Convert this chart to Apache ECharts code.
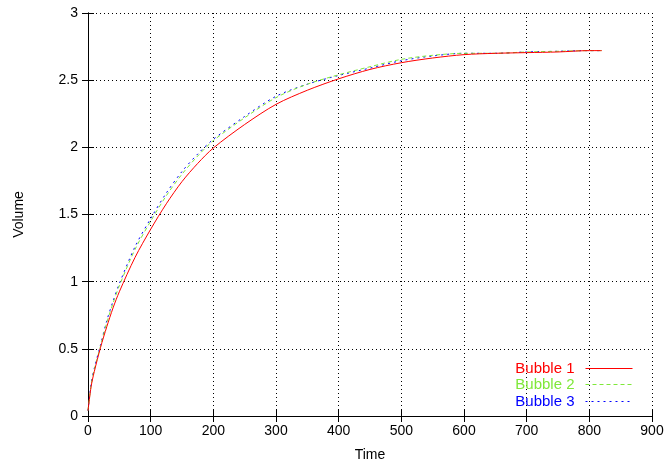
<!DOCTYPE html>
<html>
<head>
<meta charset="utf-8">
<script src="https://cdn.jsdelivr.net/npm/echarts@6/dist/echarts.min.js"></script>
<style>html,body{margin:0;padding:0;background:#fff;}#c{width:669px;height:467px;}</style>
</head>
<body>
<div id="c"></div>
<script>
const times = [0, 5, 10, 20, 30, 40, 50, 75, 100, 125, 150, 175, 200, 250, 300, 350, 400, 450, 500, 550, 600, 650, 700, 750, 800, 820];
const bubble1 = [0.04, 0.22, 0.33, 0.51, 0.665, 0.805, 0.925, 1.18, 1.39, 1.58, 1.745, 1.88, 1.995, 2.17, 2.32, 2.425, 2.51, 2.58, 2.63, 2.665, 2.69, 2.70, 2.705, 2.71, 2.72, 2.72];
const bubble2 = [0.04, 0.23, 0.345, 0.52, 0.695, 0.84, 0.97, 1.24, 1.45, 1.64, 1.80, 1.935, 2.05, 2.22, 2.37, 2.47, 2.54, 2.60, 2.655, 2.685, 2.70, 2.70, 2.71, 2.715, 2.72, 2.72];
const bubble3 = [0.04, 0.24, 0.355, 0.53, 0.71, 0.855, 0.985, 1.26, 1.47, 1.66, 1.82, 1.95, 2.06, 2.23, 2.38, 2.47, 2.535, 2.59, 2.645, 2.68, 2.70, 2.70, 2.71, 2.715, 2.72, 2.72];
const seriesNames = ['Bubble 1', 'Bubble 2', 'Bubble 3'];
const seriesColors = ['#ff0000', '#7fe83a', '#0000ff'];
const xLabel = 'Time';
const yLabel = 'Volume';

const font = 'Liberation Sans, Arial, Helvetica, sans-serif';
const pair = (vals) => times.map((t, i) => [t, vals[i]]);
const dashes = ['solid', [4, 3], [2, 4]];
const legendTops = [361, 377, 394];

const chart = echarts.init(document.getElementById('c'), null, {renderer: 'canvas'});
const axisCommon = {
  axisLine: {show: true, lineStyle: {color: '#000', width: 1}},
  axisTick: {show: true, inside: true, length: 6, lineStyle: {color: '#000'}},
};
chart.setOption({
  animation: false,
  backgroundColor: '#fff',
  textStyle: {fontFamily: font},
  grid: {left: 88, right: 17, top: 13, bottom: 51, containLabel: false},
  xAxis: [
    Object.assign({
      type: 'value', min: 0, max: 900, interval: 100, position: 'bottom',
      name: xLabel, nameLocation: 'middle', nameGap: 32,
      nameTextStyle: {color: '#000', fontSize: 14, fontFamily: font},
      axisLabel: {color: '#000', fontSize: 14, fontFamily: font, margin: 8},
      splitLine: {show: true, lineStyle: {color: '#000', type: [1, 3], width: 1}}
    }, axisCommon),
    Object.assign({
      type: 'value', min: 0, max: 900, interval: 100, position: 'top',
      axisLabel: {show: false}, splitLine: {show: false}
    }, axisCommon)
  ],
  yAxis: [
    Object.assign({
      type: 'value', min: 0, max: 3, interval: 0.5, position: 'left',
      name: yLabel, nameLocation: 'middle', nameGap: 62, nameRotate: 90,
      nameTextStyle: {color: '#000', fontSize: 14, fontFamily: font},
      axisLabel: {color: '#000', fontSize: 14, fontFamily: font, margin: 10},
      splitLine: {show: true, lineStyle: {color: '#000', type: [1, 3], width: 1}}
    }, axisCommon),
    Object.assign({
      type: 'value', min: 0, max: 3, interval: 0.5, position: 'right',
      axisLabel: {show: false}, splitLine: {show: false}
    }, axisCommon)
  ],
  legend: seriesNames.map((n, i) => ({
    orient: 'horizontal', right: 36, top: legendTops[i], align: 'right',
    padding: 0,
    itemWidth: 47, itemHeight: 15, itemGap: 0,
    itemStyle: {opacity: 0},
    data: [{
      name: n,
      textStyle: {color: seriesColors[i]},
      lineStyle: {color: seriesColors[i], width: 1, type: dashes[i]}
    }],
    textStyle: {fontSize: 15, fontFamily: font, padding: [0, 6, 0, 0]}
  })),
  series: [bubble1, bubble2, bubble3].map((vals, i) => ({
    name: seriesNames[i], type: 'line', data: pair(vals),
    showSymbol: false, symbol: 'none', smooth: 0.3,
    lineStyle: {color: seriesColors[i], width: 1, type: dashes[i]},
    itemStyle: {color: seriesColors[i]},
    z: 3 - i
  }))
});
</script>
</body>
</html>
